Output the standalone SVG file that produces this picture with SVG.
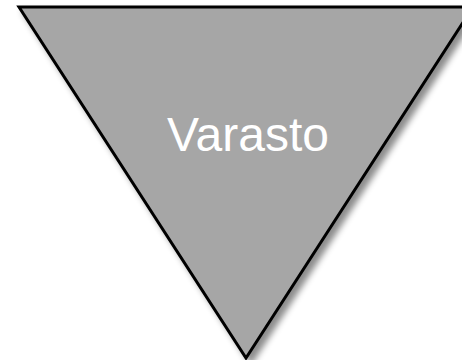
<svg xmlns="http://www.w3.org/2000/svg" width="462" height="360" viewBox="0 0 462 360">
<defs>
<style>
.shape{fill:#a6a6a6;stroke:#000;stroke-width:3;stroke-linejoin:miter}
.label{font-family:"Liberation Sans",Arial,sans-serif;font-size:48px;fill:#fff;text-anchor:middle}
</style>
<filter id="sh" x="-10%" y="-10%" width="130%" height="130%">
<feDropShadow dx="5" dy="5" stdDeviation="3" flood-color="#000" flood-opacity="0.45"/>
</filter>
</defs>
<g id="connectors"/>
<g id="varasto">
<polygon class="shape" points="19,7 473,7 246,358" filter="url(#sh)"/>
<text class="label" x="248" y="151">Varasto</text>
</g>
</svg>
